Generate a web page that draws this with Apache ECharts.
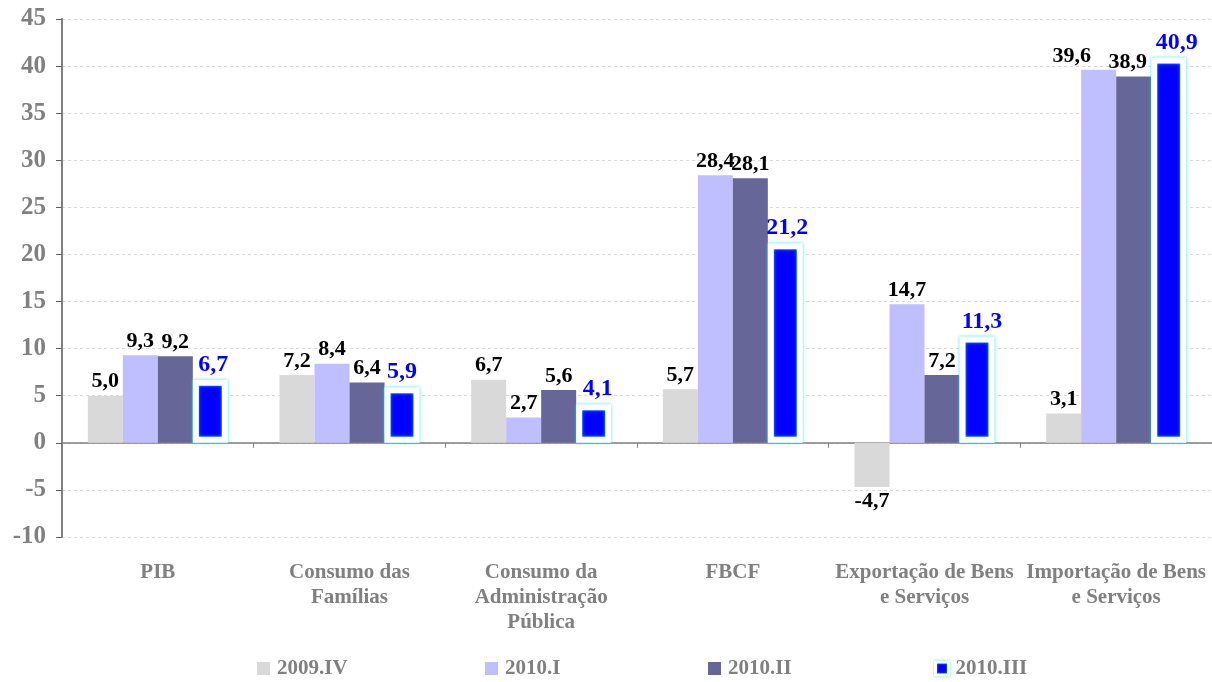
<!DOCTYPE html>
<html>
<head>
<meta charset="utf-8">
<script src="https://cdn.jsdelivr.net/npm/echarts@6/dist/echarts.min.js"></script>
<style>
  html, body { margin: 0; padding: 0; background: #fff; }
  #chart { width: 1212px; height: 682px; }
</style>
</head>
<body>
<div id="chart"></div>
<script>
const categories = [
    'PIB',
    'Consumo das\nFamílias',
    'Consumo da\nAdministração\nPública',
    'FBCF',
    'Exportação de Bens\ne Serviços',
    'Importação de Bens\ne Serviços'
];
const seriesNames = ['2009.IV', '2010.I', '2010.II', '2010.III'];
const q2009IV = [5.0, 7.2, 6.7, 5.7, -4.7, 3.1];
const q2010I = [9.3, 8.4, 2.7, 28.4, 14.7, 39.6];
const q2010II = [9.2, 6.4, 5.6, 28.1, 7.2, 38.9];
const q2010III = [6.7, 5.9, 4.1, 21.2, 11.3, 40.9];
const yTicks = [-10, -5, 0, 5, 10, 15, 20, 25, 30, 35, 40, 45];

// horizontal label nudges (px), the original moved a few labels by hand
const labelNudgeI = [0, 0, 0, 0, 0, -27];
const labelNudgeII = [0, 0, 0, 0, 0, -6];
const labelNudgeIII = [3, 0, 4, 2, 5, 8];

const font = '"Liberation Serif", "Times New Roman", serif';
const fmt = v => v.toFixed(1).replace('.', ',');

const chart = echarts.init(document.getElementById('chart'));

function barSeries(name, values, color, labelColor, labelSize, nudges, extra) {
    return Object.assign({
        name: name,
        type: 'bar',
        xAxisIndex: 0,
        barWidth: 35,
        barGap: '0%',
        itemStyle: { color: color },
        label: {
            show: true,
            position: 'top',
            distance: 3,
            color: labelColor,
            fontFamily: font,
            fontWeight: 'bold',
            fontSize: labelSize,
            formatter: p => fmt(p.value)
        },
        data: values.map((v, i) => {
            const label = {};
            if (v < 0) label.position = 'bottom';
            if (nudges && nudges[i]) label.offset = [nudges[i], 0];
            return { value: v, label: label };
        })
    }, extra || {});
}

// each legend entry placed on its own, like the original slots
const legendLefts = [257, 485, 708, 934];
const legends = seriesNames.map((n, i) => ({
    data: [i === 3 ? {
        name: n,
        itemStyle: {
            color: '#0000ff', borderColor: '#ffffff', borderWidth: 3,
            shadowColor: 'rgba(0,230,255,0.9)', shadowBlur: 2
        }
    } : n],
    left: legendLefts[i],
    top: 658,
    padding: 0,
    itemWidth: 13,
    itemHeight: 13,
    itemGap: 6,
    icon: 'rect',
    textStyle: { color: '#808080', fontFamily: font, fontWeight: 'bold', fontSize: 21, padding: [0, 0, 0, 2] }
}));

chart.setOption({
    backgroundColor: '#fff',
    animation: false,
    legend: legends,
    grid: { left: 62, right: 0, top: 19, bottom: 145 },
    xAxis: [
        {
            type: 'category',
            data: categories,
            axisLine: { onZero: true, lineStyle: { color: '#808080', width: 1.5 } },
            axisTick: { show: true, length: 5, lineStyle: { color: '#808080' } },
            axisLabel: { show: false }
        },
        {
            type: 'category',
            data: categories,
            position: 'bottom',
            axisLine: { show: false, onZero: false },
            axisTick: { show: false },
            axisLabel: {
                margin: 23,
                color: '#808080',
                fontFamily: font,
                fontWeight: 'bold',
                fontSize: 21,
                lineHeight: 25,
                interval: 0
            }
        }
    ],
    yAxis: {
        type: 'value',
        min: yTicks[0],
        max: yTicks[yTicks.length - 1],
        interval: 5,
        axisLine: { show: true, lineStyle: { color: '#808080', width: 2 } },
        axisTick: { show: true, length: 6, lineStyle: { color: '#606060' } },
        axisLabel: {
            margin: 16,
            color: '#808080',
            fontFamily: font,
            fontWeight: 'bold',
            fontSize: 25
        },
        splitLine: { lineStyle: { color: '#d9d9d9', type: [3, 3] } }
    },
    series: [
        barSeries('2009.IV', q2009IV, '#d9d9d9', '#000', 22),
        barSeries('2010.I', q2010I, '#bfbfff', '#000', 22, labelNudgeI),
        barSeries('2010.II', q2010II, '#666699', '#000', 22, labelNudgeII),
        barSeries('2010.III', q2010III, '#0000ff', '#0000ff', 24, labelNudgeIII, {
            itemStyle: {
                color: '#0000ff',
                borderColor: '#ffffff',
                borderWidth: 6,
                shadowColor: 'rgba(0,230,255,0.9)',
                shadowBlur: 3
            }
        })
    ]
});
</script>
</body>
</html>
